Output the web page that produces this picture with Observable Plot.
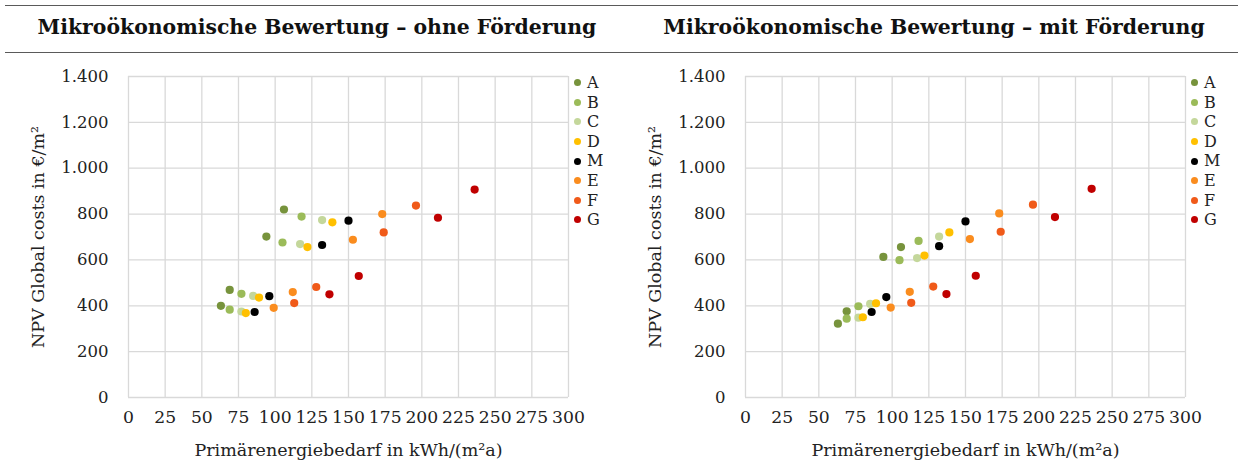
<!DOCTYPE html>
<html>
<head>
<meta charset="utf-8">
<script src="https://cdn.jsdelivr.net/npm/d3@7"></script>
<script src="https://cdn.jsdelivr.net/npm/@observablehq/plot@0.6"></script>
<style>
  html, body { margin: 0; padding: 0; background: #fff; }
  #root { position: relative; width: 1238px; height: 469px; overflow: hidden; background: #fff; }
  .rule { position: absolute; left: 5px; width: 1233px; height: 0; border-top: 1.5px solid #5a5a5a; }
  .title { position: absolute; top: 12px; width: 634px; text-align: center; font-family: "DejaVu Serif", serif; font-weight: bold; font-size: 20.4px; line-height: 30px; color: #111; white-space: nowrap; }
  .panel { position: absolute; top: 55px; }
  .legend { position: absolute; top: 73px; font-family: "DejaVu Serif", serif; font-size: 16px; color: #222; }
  .legend div { height: 19.6px; line-height: 19.6px; display: flex; align-items: center; }
  .legend span.sw { display: inline-block; width: 7px; height: 7px; border-radius: 50%; margin-right: 6px; }
</style>
</head>
<body>
<div id="root"></div>
<script>
// ---- data ----
const seriesNames = ["A", "B", "C", "D", "M", "E", "F", "G"];
const seriesColors = ["#77933c", "#9bbb59", "#c4d79b", "#ffc000", "#000000", "#fa8c1e", "#f05a19", "#c00000"];
// Primärenergiebedarf (kWh/(m²a)) per series, four variants each
const energyDemand = [
  [63, 69, 94, 106],
  [69, 77, 105, 118],
  [77, 85, 117, 132],
  [80, 89, 122, 139],
  [86, 96, 132, 150],
  [99, 112, 153, 173],
  [113, 128, 174, 196],
  [137, 157, 211, 236]
];
// NPV Global costs (€/m²) without subsidy
const costsOhne = [
  [400, 469, 702, 820],
  [383, 452, 676, 789],
  [375, 443, 669, 774],
  [368, 436, 656, 764],
  [373, 442, 665, 771],
  [391, 460, 688, 800],
  [412, 482, 720, 837],
  [450, 530, 784, 907]
];
// NPV Global costs (€/m²) with subsidy
const costsMit = [
  [322, 376, 613, 656],
  [344, 398, 599, 683],
  [348, 408, 608, 702],
  [350, 411, 619, 720],
  [373, 438, 660, 768],
  [392, 461, 691, 803],
  [413, 484, 723, 841],
  [451, 531, 787, 910]
];
const titles = ["Mikroökonomische Bewertung – ohne Förderung", "Mikroökonomische Bewertung – mit Förderung"];
const xTicks = [0, 25, 50, 75, 100, 125, 150, 175, 200, 225, 250, 275, 300];
const yTicks = [0, 200, 400, 600, 800, 1000, 1200, 1400];
const xLabel = "Primärenergiebedarf in kWh/(m²a)";
const yLabel = "NPV Global costs in €/m²";

// ---- build ----
const root = document.getElementById("root");
const fmtY = d => d3.format(",")(d).replace(/,/g, ".");

function rows(costs) {
  const out = [];
  seriesNames.forEach((s, i) => {
    energyDemand[i].forEach((x, j) => out.push({series: s, x, y: costs[i][j]}));
  });
  return out;
}

function makePlot(costs) {
  const grid = {stroke: "#d9d9d9", strokeOpacity: 1, strokeWidth: 1.3};
  return Plot.plot({
    width: 619,
    height: 414,
    marginLeft: 128,
    marginRight: 51,
    marginTop: 21,
    marginBottom: 72,
    style: {fontFamily: "DejaVu Serif, serif", fontSize: "16px", color: "#222", background: "transparent"},
    x: {domain: [0, 300]},
    y: {domain: [0, 1400]},
    color: {domain: seriesNames, range: seriesColors},
    marks: [
      Plot.gridX(xTicks, grid),
      Plot.gridY(yTicks, grid),
      Plot.axisX(xTicks, {tickSize: 0, tickPadding: 13, label: null, fontSize: 17.2}),
      Plot.axisX([], {tickSize: 0, label: xLabel, labelAnchor: "center", labelArrow: "none", labelOffset: 58, fontSize: 17.5}),
      Plot.axisY(yTicks, {tickSize: 0, tickPadding: 20, tickFormat: fmtY, label: null, fontSize: 16.5}),
      Plot.axisY([], {tickSize: 0, label: yLabel, labelAnchor: "center", labelArrow: "none", labelOffset: 97, fontSize: 17.5}),
      Plot.dot(rows(costs), {x: "x", y: "y", fill: "series", r: 4.1, stroke: "none"})
    ]
  });
}

[costsOhne, costsMit].forEach((costs, k) => {
  const left = k === 0 ? 0 : 617;
  const t = document.createElement("div");
  t.className = "title";
  t.style.left = left + "px";
  t.textContent = titles[k];
  root.appendChild(t);

  const p = document.createElement("div");
  p.className = "panel";
  p.style.left = left + "px";
  p.appendChild(makePlot(costs));
  root.appendChild(p);

  const lg = document.createElement("div");
  lg.className = "legend";
  lg.style.left = (left + 574) + "px";
  seriesNames.forEach((s, i) => {
    const r = document.createElement("div");
    const sw = document.createElement("span");
    sw.className = "sw";
    sw.style.background = seriesColors[i];
    r.appendChild(sw);
    r.appendChild(document.createTextNode(s));
    lg.appendChild(r);
  });
  root.appendChild(lg);
});

[5, 52].forEach(y => {
  const r = document.createElement("div");
  r.className = "rule";
  r.style.top = y + "px";
  root.appendChild(r);
});
</script>
</body>
</html>
